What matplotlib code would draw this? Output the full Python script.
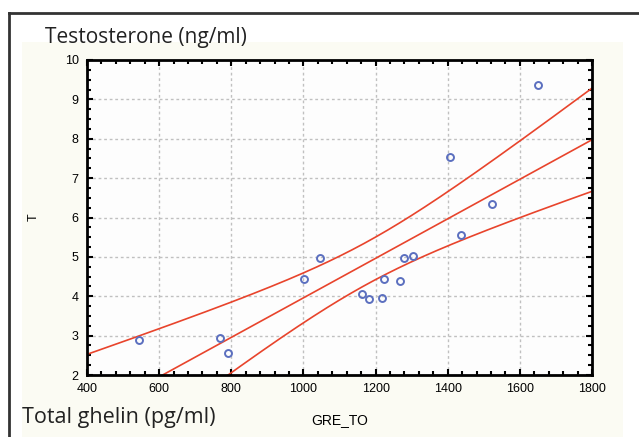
import numpy as np
import matplotlib.pyplot as plt
from matplotlib.lines import Line2D
from matplotlib.patches import Rectangle
from matplotlib.ticker import MultipleLocator

# ghrelin (pg/ml) vs testosterone (ng/ml)
gre_to = [544, 769, 790, 1001, 1047, 1163, 1182, 1217, 1222, 1268, 1279, 1304,
          1437, 1523, 1407, 1649]
testo = [2.9, 2.95, 2.55, 4.45, 4.96, 4.06, 3.94, 3.95, 4.45, 4.38, 4.97, 5.03,
         5.56, 6.35, 7.54, 9.37]

x = np.array(gre_to, dtype=float)
y = np.array(testo, dtype=float)

# linear fit with 95% confidence band
n = len(x)
b, a = np.polyfit(x, y, 1)
res = y - (a + b * x)
s = np.sqrt(np.sum(res**2) / (n - 2))
t_crit = 2.145  # t(0.975, df=14)
xx = np.linspace(400, 1800, 300)
yy = a + b * xx
se = s * np.sqrt(1 / n + (xx - x.mean())**2 / np.sum((x - x.mean())**2))

fig = plt.figure(figsize=(6.39, 4.37), dpi=100)
fig.patch.set_facecolor('white')

# panel background and frame
fig.add_artist(Rectangle((22/639, 0), 601/639, 395/437, transform=fig.transFigure,
                         facecolor='#fbfbf3', edgecolor='none', zorder=0))
fig.add_artist(Line2D([8.5/639, 1], [1 - 12.5/437, 1 - 12.5/437], transform=fig.transFigure,
                      color='#333333', lw=2))
fig.add_artist(Line2D([8.5/639, 8.5/639], [0, 1 - 12.5/437], transform=fig.transFigure,
                      color='#333333', lw=2))

ax = fig.add_axes([87/639, 62/437, 505/639, 315/437])
ax.set_facecolor('#fdfdfd')

red = '#e8442c'
ax.plot(xx, yy, color=red, lw=1.2)
ax.plot(xx, yy + t_crit * se, color=red, lw=1.2)
ax.plot(xx, yy - t_crit * se, color=red, lw=1.2)
ax.plot(x, y, 'o', mfc='none', mec='#5b6fbf', mew=1.4, ms=5)

ax.set_xlim(400, 1800)
ax.set_ylim(2, 10)
ax.xaxis.set_major_locator(MultipleLocator(200))
ax.xaxis.set_minor_locator(MultipleLocator(40))
ax.yaxis.set_major_locator(MultipleLocator(1))
ax.yaxis.set_minor_locator(MultipleLocator(0.25))
ax.tick_params(which='both', direction='in', top=True, right=True, color='black')
ax.tick_params(which='major', length=4, width=1.5, labelsize=9, pad=6)
ax.tick_params(which='minor', length=3, width=1.5)
for lab in ax.get_xticklabels() + ax.get_yticklabels():
    lab.set_family('Liberation Sans')
ax.grid(True, which='major', color='#c0c0c0', linestyle=(0, (2, 2)), lw=1)
for sp in ax.spines.values():
    sp.set_linewidth(2)

ax.set_xlabel('GRE_TO', family='Liberation Sans', fontsize=10, labelpad=13)
ax.set_ylabel('T', family='Liberation Sans', fontsize=9, labelpad=18)

fig.text(45/639, 1 - 38/437, 'Testosterone (ng/ml)', family='Open Sans',
         fontsize=15, va='center', color='#222222')
fig.text(22/639, 1 - 417/437, 'Total ghelin (pg/ml)', family='Open Sans',
         fontsize=15.5, va='center', color='#222222')

plt.savefig('out.png', dpi=100)
